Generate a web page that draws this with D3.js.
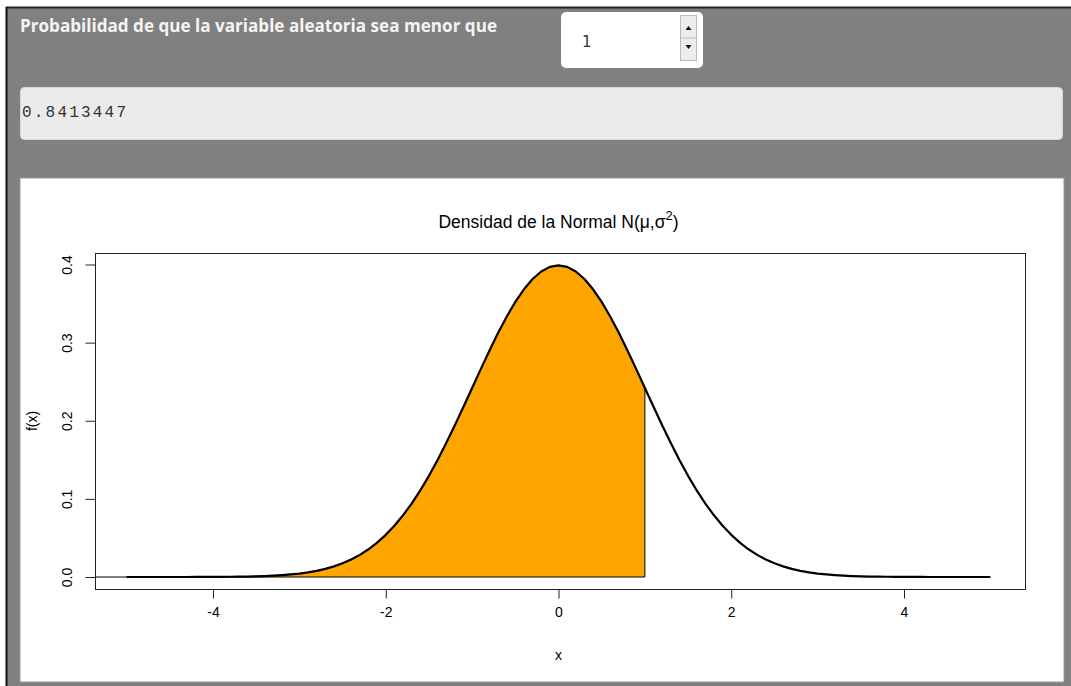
<!DOCTYPE html>
<html>
<head>
<meta charset="utf-8" />
<title>Densidad de la Normal</title>
<script src="https://cdn.jsdelivr.net/npm/d3@7"></script>
<style>
  body { margin: 0; background: #fff; }
  svg { display: block; }
</style>
</head>
<body>
<script>
var xs = [-5.0,-4.9,-4.8,-4.7,-4.6,-4.5,-4.4,-4.3,-4.2,-4.1,-4.0,-3.9,-3.8,-3.7,-3.6,-3.5,-3.4,-3.3,-3.2,-3.1,
          -3.0,-2.9,-2.8,-2.7,-2.6,-2.5,-2.4,-2.3,-2.2,-2.1,-2.0,-1.9,-1.8,-1.7,-1.6,-1.5,-1.4,-1.3,-1.2,-1.1,
          -1.0,-0.9,-0.8,-0.7,-0.6,-0.5,-0.4,-0.3,-0.2,-0.1,0.0,0.1,0.2,0.3,0.4,0.5,0.6,0.7,0.8,0.9,
          1.0,1.1,1.2,1.3,1.4,1.5,1.6,1.7,1.8,1.9,2.0,2.1,2.2,2.3,2.4,2.5,2.6,2.7,2.8,2.9,
          3.0,3.1,3.2,3.3,3.4,3.5,3.6,3.7,3.8,3.9,4.0,4.1,4.2,4.3,4.4,4.5,4.6,4.7,4.8,4.9,5.0];
var fx = [0.0000,0.0000,0.0000,0.0000,0.0000,0.0000,0.0000,0.0000,0.0001,0.0001,0.0001,0.0002,0.0003,0.0004,0.0006,0.0009,0.0012,0.0017,0.0024,0.0033,
          0.0044,0.0060,0.0079,0.0104,0.0136,0.0175,0.0224,0.0283,0.0355,0.0440,0.0540,0.0656,0.0790,0.0940,0.1109,0.1295,0.1497,0.1714,0.1942,0.2179,
          0.2420,0.2661,0.2897,0.3123,0.3332,0.3521,0.3683,0.3814,0.3910,0.3970,0.3989,0.3970,0.3910,0.3814,0.3683,0.3521,0.3332,0.3123,0.2897,0.2661,
          0.2420,0.2179,0.1942,0.1714,0.1497,0.1295,0.1109,0.0940,0.0790,0.0656,0.0540,0.0440,0.0355,0.0283,0.0224,0.0175,0.0136,0.0104,0.0079,0.0060,
          0.0044,0.0033,0.0024,0.0017,0.0012,0.0009,0.0006,0.0004,0.0003,0.0002,0.0001,0.0001,0.0001,0.0000,0.0000,0.0000,0.0000,0.0000,0.0000,0.0000,0.0000];
var limite = 1;
var probabilidad = "0.8413447";
var xTicks = [-4, -2, 0, 2, 4];
var yTicks = [0.0, 0.1, 0.2, 0.3, 0.4];
var yTickLabels = ["0.0", "0.1", "0.2", "0.3", "0.4"];

var W = 1071, H = 686;
var svg = d3.select("body").append("svg").attr("width", W).attr("height", H);

// shiny page background
svg.append("rect").attr("width", W).attr("height", H).attr("fill", "#fff");
svg.append("rect").attr("x", 6).attr("y", 7).attr("width", W - 6).attr("height", H - 7).attr("fill", "#808080");
svg.append("line").attr("x1", 6).attr("x2", W).attr("y1", 7.5).attr("y2", 7.5).attr("stroke", "#222").attr("stroke-width", 2);
svg.append("line").attr("x1", 6.5).attr("x2", 6.5).attr("y1", 7).attr("y2", H).attr("stroke", "#111").attr("stroke-width", 2);

svg.append("text").attr("x", 20).attr("y", 32)
  .attr("font-family", "'Open Sans', sans-serif").attr("font-weight", "bold").attr("font-size", 17)
  .attr("fill", "#f4f4f4").attr("textLength", 477).attr("lengthAdjust", "spacingAndGlyphs")
  .text("Probabilidad de que la variable aleatoria sea menor que");

// numeric input
svg.append("rect").attr("x", 561).attr("y", 12).attr("width", 142).attr("height", 56).attr("rx", 5).attr("fill", "#fff");
svg.append("text").attr("x", 582).attr("y", 47).attr("font-family", "'DejaVu Sans', sans-serif").attr("font-size", 15)
  .attr("fill", "#333").text(limite);
svg.append("rect").attr("x", 680.5).attr("y", 15.5).attr("width", 16).attr("height", 45)
  .attr("fill", "#ececec").attr("stroke", "#bbb");
svg.append("line").attr("x1", 681).attr("x2", 696).attr("y1", 38).attr("y2", 38).attr("stroke", "#bbb");
svg.append("path").attr("d", "M685.5,30 L691.5,30 L688.5,26 Z").attr("fill", "#111");
svg.append("path").attr("d", "M685.5,45 L691.5,45 L688.5,49 Z").attr("fill", "#111");

// verbatim output
svg.append("rect").attr("x", 20.5).attr("y", 87.5).attr("width", 1042).attr("height", 52).attr("rx", 4)
  .attr("fill", "#ebebeb").attr("stroke", "#d8d8d8");
svg.append("text").attr("x", 22).attr("y", 117).attr("font-family", "'Liberation Mono', monospace").attr("font-size", 16)
  .attr("fill", "#333").attr("textLength", 104).text(probabilidad);

// plot panel
svg.append("rect").attr("x", 20).attr("y", 178).attr("width", 1044).attr("height", 504).attr("fill", "#fff")
  .attr("stroke", "#9a9a9a").attr("stroke-width", 1);

var box = { left: 95, right: 1025, top: 253, bottom: 589 };
var x = d3.scaleLinear().domain([-4, 4]).range([213, 904]);
var y = d3.scaleLinear().domain([0, 0.4]).range([577, 264.5]);

var font = "'Liberation Sans', Arial, sans-serif";
var pts = xs.map(function (v, i) { return [v, fx[i]]; });
var area = pts.filter(function (p) { return p[0] <= limite + 1e-9; });
var line = d3.line().x(function (d) { return x(d[0]); }).y(function (d) { return y(d[1]); });

// shaded region P(X < limite)
var poly = [[xs[0], 0]].concat(area).concat([[limite, 0]]);
svg.append("path").attr("d", line(poly) + "Z")
  .attr("fill", "#FFA500").attr("stroke", "#000").attr("stroke-width", 1);

// baseline stub left of curve
svg.append("line").attr("x1", box.left).attr("x2", x(xs[0])).attr("y1", y(0)).attr("y2", y(0))
  .attr("stroke", "#000").attr("stroke-width", 1);

// density curve
svg.append("path").attr("d", line(pts))
  .attr("fill", "none").attr("stroke", "#000").attr("stroke-width", 2.2).attr("stroke-linejoin", "round");

// frame
svg.append("rect").attr("x", box.left + 0.5).attr("y", box.top + 0.5)
  .attr("width", box.right - box.left).attr("height", box.bottom - box.top)
  .attr("fill", "none").attr("stroke", "#222");

// axes
var xAxis = svg.append("g").attr("transform", "translate(0," + (box.bottom + 0.5) + ")")
  .call(d3.axisBottom(x).tickValues(xTicks).tickSize(9).tickPadding(9).tickFormat(function (d) { return String(d); }));
xAxis.select(".domain").attr("d", "M" + x(-4) + ",0H" + x(4));
var yAxis = svg.append("g").attr("transform", "translate(" + (box.left + 0.5) + ",0)")
  .call(d3.axisLeft(y).tickValues(yTicks).tickSize(10).tickFormat(function (d, i) { return yTickLabels[i]; }));
yAxis.select(".domain").attr("d", "M0," + y(0) + "V" + y(0.4));
yAxis.selectAll(".tick text")
  .attr("transform", "translate(-28,0) rotate(-90)")
  .attr("x", 0).attr("dy", "0.35em").attr("text-anchor", "middle");
svg.selectAll(".tick line, .domain").attr("stroke", "#222");
svg.selectAll(".tick text").attr("font-family", font).attr("font-size", 14).attr("fill", "#000");

// titles
var title = svg.append("text").attr("x", x(0)).attr("y", 228).attr("text-anchor", "middle")
  .attr("font-family", font).attr("font-size", 17.5).attr("fill", "#000");
title.append("tspan").text("Densidad de la Normal N(\u03bc,\u03c3");
title.append("tspan").attr("dy", -8).attr("font-size", 13).text("2");
title.append("tspan").attr("dy", 8).text(")");

svg.append("text").attr("x", x(0)).attr("y", 660).attr("text-anchor", "middle")
  .attr("font-family", font).attr("font-size", 14).text("x");
svg.append("text").attr("transform", "translate(37," + ((box.top + box.bottom) / 2) + ") rotate(-90)")
  .attr("text-anchor", "middle").attr("font-family", font).attr("font-size", 14).text("f(x)");
</script>
</body>
</html>
